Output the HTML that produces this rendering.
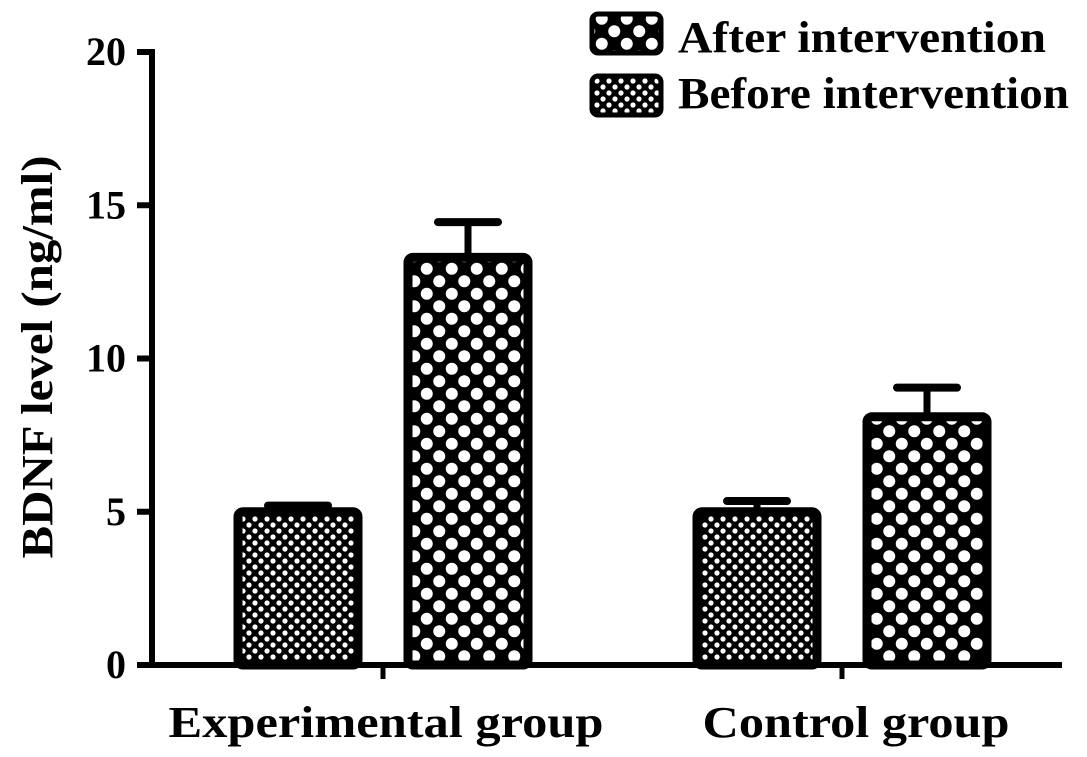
<!DOCTYPE html>
<html><head><meta charset="utf-8"><style>
html,body{margin:0;padding:0;background:#fff;}
svg{display:block;font-family:"Liberation Serif",serif;font-weight:bold;}
</style></head><body>
<svg id="chart" width="1087" height="757" viewBox="0 0 1087 757">
<defs>
<pattern id="pBig" width="25" height="25" patternUnits="userSpaceOnUse" x="408" y="0">
<rect width="25" height="25" fill="#000"/>
<circle cx="6.25" cy="6.25" r="6" fill="#fff"/>
<circle cx="18.75" cy="18.75" r="6" fill="#fff"/>
</pattern>
<pattern id="pSmall" width="12" height="12" patternUnits="userSpaceOnUse">
<rect width="12" height="12" fill="#000"/>
<circle cx="3" cy="3" r="2.6" fill="#fff"/>
<circle cx="9" cy="9" r="2.6" fill="#fff"/>
</pattern>
</defs>
<g id="axes"></g>
<g id="bars"></g>
<text transform="translate(52,357) rotate(-90)" text-anchor="middle" font-size="44" textLength="403" lengthAdjust="spacingAndGlyphs">BDNF level (ng/ml)</text>
<g>
<rect x="592" y="14" width="69" height="39" rx="6" fill="url(#pBig)" stroke="#000" stroke-width="5"/>
<text x="678" y="52" font-size="44" textLength="368" lengthAdjust="spacingAndGlyphs">After intervention</text>
<rect x="592" y="76" width="69" height="39" rx="6" fill="url(#pSmall)" stroke="#000" stroke-width="5"/>
<text x="678" y="108" font-size="44" textLength="391" lengthAdjust="spacingAndGlyphs">Before intervention</text>
</g>
</svg>
<script>
const categories = ["Experimental group", "Control group"];
const beforeValues = [5.0, 5.0];
const beforeErrors = [0.2, 0.35];
const afterValues = [13.3, 8.1];
const afterErrors = [1.15, 0.95];
const yTicks = [0, 5, 10, 15, 20];

const NS = "http://www.w3.org/2000/svg";
const x0 = 152, x1 = 1062, yBase = 665, yTop = 52;
function yScale(v){ return yBase - (v/20)*(yBase-yTop); }
const groupCenters = [383, 842];
const labelCenters = [386, 856];
const labelWidths = [435, 307];
const barW = 120, gap = 50;
function mk(tag, attrs, parent){ const e=document.createElementNS(NS,tag); for(const k in attrs) e.setAttribute(k,attrs[k]); parent.appendChild(e); return e; }
const axes = document.getElementById('axes');
const bars = document.getElementById('bars');

const yAxis = mk('line',{x1:x0,y1:yTop-3,x2:x0,y2:yBase+3,stroke:'#000','stroke-width':6},axes);


const xAxis = mk('line',{x1:x0-3,y1:yBase,x2:x1,y2:yBase,stroke:'#000','stroke-width':6},axes);


yTicks.forEach(t=>{
  const y=yScale(t);
  const l=mk('line',{x1:x0-15,y1:y,x2:x0,y2:y,stroke:'#000','stroke-width':6},axes);
  
  
  const tx=mk('text',{x:x0-26,y:y+13,'text-anchor':'end','font-size':40},axes);
  tx.textContent=t;
  
  
});
categories.forEach((c,i)=>{
  const cx=groupCenters[i];
  const l=mk('line',{x1:cx,y1:yBase,x2:cx,y2:yBase+14,stroke:'#000','stroke-width':5},axes);
  
  
  const tx=mk('text',{x:labelCenters[i],y:737,'text-anchor':'middle','font-size':44,textLength:labelWidths[i],lengthAdjust:'spacingAndGlyphs'},axes);
  tx.textContent=c;
  
  
  function drawBar(v,err,bx,fill,name){
    const yv=yScale(v), ye=yScale(v+err), mid=bx+barW/2;
    const el=mk('line',{x1:mid,y1:ye,x2:mid,y2:yv,stroke:'#000','stroke-width':7},bars);
    
    
    const cap=mk('line',{x1:mid-30,y1:ye,x2:mid+30,y2:ye,stroke:'#000','stroke-width':8,'stroke-linecap':'round'},bars);
    
    
    const r=mk('rect',{x:bx,y:yv,width:barW,height:yBase-yv,rx:5,fill:fill,stroke:'#000','stroke-width':9},bars);
    
    
  }
  drawBar(beforeValues[i],beforeErrors[i],cx-gap/2-barW,'url(#pSmall)','bar-before-'+i);
  drawBar(afterValues[i],afterErrors[i],cx+gap/2,'url(#pBig)','bar-after-'+i);
});
</script>
</body></html>
